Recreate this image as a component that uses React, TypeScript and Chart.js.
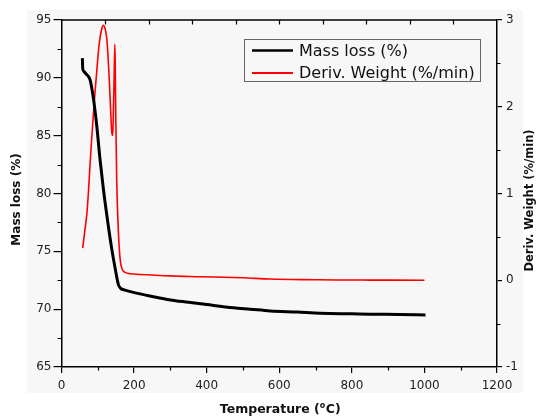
import React, { useEffect, useRef } from 'react';
import { Chart, registerables } from 'chart.js';

Chart.register(...registerables);

// Mass loss curve (left axis)
const massTemp = [57.5, 58.5, 62, 66, 72, 79, 88, 97, 106, 115, 125, 138, 148, 154, 157, 163, 175, 198, 250, 300, 350, 400, 474, 520, 575, 650, 713, 800, 851, 930, 1003];
const massLoss = [91.7, 90.8, 90.55, 90.4, 90.2, 89.8, 88.2, 85.9, 83.0, 80.5, 78.1, 75.3, 73.5, 72.5, 72.1, 71.8, 71.65, 71.45, 71.1, 70.8, 70.6, 70.4, 70.12, 70.0, 69.85, 69.75, 69.65, 69.6, 69.57, 69.54, 69.5];

// Derivative weight curve (right axis)
const derivTemp = [58.5, 60.4, 64, 69.5, 74, 78.6, 83, 87.7, 92, 97, 102, 106, 111, 115.3, 120, 124.7, 128, 131.9, 135, 138.5, 141.2, 143, 144.8, 147, 148, 149.5, 152.2, 156.8, 161.4, 166, 175, 190, 198, 250, 300, 382, 500, 575, 700, 759, 850, 1000];
const derivWeight = [0.37, 0.44, 0.56, 0.75, 1.0, 1.33, 1.62, 1.9, 2.15, 2.4, 2.65, 2.79, 2.9, 2.94, 2.9, 2.79, 2.6, 2.29, 2.0, 1.71, 1.67, 1.95, 2.29, 2.72, 2.5, 1.9, 1.14, 0.56, 0.25, 0.14, 0.09, 0.075, 0.072, 0.06, 0.05, 0.041, 0.028, 0.014, 0.006, 0.003, 0.002, 0.0];

const seriesNames = ['Mass loss (%)', 'Deriv. Weight (%/min)'];
const seriesColors = ['#000000', '#ff0000'];
const xTitleParts = ['Temperature (', 'o', 'C)'];
const yTitle = 'Mass loss (%)';
const y1Title = 'Deriv. Weight (%/min)';

const xMinorTicks = [100, 300, 500, 700, 900, 1100];
const xTopTicks = [120, 240, 360, 480, 600, 720, 840, 960, 1080];
const yMinorTicks = [67.5, 72.5, 77.5, 82.5, 87.5, 92.5];
const y1MinorTicks = [-0.5, 0.5, 1.5, 2.5];

const TICK_FONT = { family: "'DejaVu Sans', sans-serif", size: 12 };
const plainLabel = (v: any) => String(v);

export default function App() {
  const ref = useRef<HTMLCanvasElement>(null);

  useEffect(() => {
    const canvas = ref.current;
    if (!canvas) return;

    const framePlugin = {
      id: 'frame',
      beforeDraw(chart: any) {
        const c = chart.ctx;
        c.save();
        c.fillStyle = '#ffffff';
        c.fillRect(0, 0, chart.width, chart.height);
        c.fillStyle = '#f7f7f7';
        c.fillRect(27, 10, 496, 383);
        c.restore();
      },
      afterDraw(chart: any) {
        const c = chart.ctx;
        const { left, right, top, bottom } = chart.chartArea;
        const xs = chart.scales.x;
        const ys = chart.scales.y;
        const y1s = chart.scales.y1;
        c.save();
        c.strokeStyle = '#000';
        c.lineWidth = 1.5;
        // top border
        c.beginPath();
        c.moveTo(left, top);
        c.lineTo(right, top);
        c.stroke();
        c.lineWidth = 1.2;
        c.beginPath();
        xMinorTicks.forEach((v) => {
          const px = Math.round(xs.getPixelForValue(v)) + 0.5;
          c.moveTo(px, bottom);
          c.lineTo(px, bottom + 3.5);
        });
        xTopTicks.forEach((v) => {
          const px = Math.round(xs.getPixelForValue(v)) + 0.5;
          c.moveTo(px, top);
          c.lineTo(px, top + 4.5);
        });
        yMinorTicks.forEach((v) => {
          const py = Math.round(ys.getPixelForValue(v)) + 0.5;
          c.moveTo(left - 4, py);
          c.lineTo(left, py);
        });
        y1MinorTicks.forEach((v) => {
          const py = Math.round(y1s.getPixelForValue(v)) + 0.5;
          c.moveTo(right, py);
          c.lineTo(right + 3.5, py);
        });
        c.stroke();

        // axis titles
        c.fillStyle = '#111';
        c.textAlign = 'center';
        c.textBaseline = 'middle';
        c.font = "bold 12px 'DejaVu Sans', sans-serif";
        c.save();
        c.translate(17, (top + bottom) / 2 + 6);
        c.rotate(-Math.PI / 2);
        c.fillText(yTitle, 0, 0);
        c.restore();

        c.font = "bold 11.5px 'DejaVu Sans', sans-serif";
        c.save();
        c.translate(530, (top + bottom) / 2 + 7);
        c.rotate(-Math.PI / 2);
        c.fillText(y1Title, 0, 0);
        c.restore();

        // x title with superscript
        c.textAlign = 'left';
        c.textBaseline = 'alphabetic';
        const big = "bold 12.5px 'DejaVu Sans', sans-serif";
        const small = "bold 8px 'DejaVu Sans', sans-serif";
        c.font = big;
        const w1 = c.measureText(xTitleParts[0]).width;
        const w3 = c.measureText(xTitleParts[2]).width;
        c.font = small;
        const w2 = c.measureText(xTitleParts[1]).width + 0.5;
        const total = w1 + w2 + w3;
        let tx = (left + right) / 2 - total / 2 + 1;
        const baseY = 412.5;
        c.font = big;
        c.fillText(xTitleParts[0], tx, baseY);
        tx += w1;
        c.font = small;
        c.fillText(xTitleParts[1], tx, baseY - 4.5);
        tx += w2;
        c.font = big;
        c.fillText(xTitleParts[2], tx, baseY);

        // legend
        c.strokeStyle = '#666';
        c.lineWidth = 1;
        c.strokeRect(244.5, 39.5, 236, 42);
        const rows = [50.5, 73];
        seriesNames.forEach((name, i) => {
          c.strokeStyle = seriesColors[i];
          c.lineWidth = i === 0 ? 2.5 : 2;
          c.beginPath();
          c.moveTo(252, rows[i]);
          c.lineTo(293, rows[i]);
          c.stroke();
          c.fillStyle = '#111';
          c.font = "16px 'DejaVu Sans', sans-serif";
          c.textBaseline = 'middle';
          c.textAlign = 'left';
          c.fillText(name, 299, rows[i] + 1);
        });
        c.restore();
      },
    };

    const chart = new Chart(canvas, {
      type: 'line',
      data: {
        datasets: [
          {
            label: seriesNames[0],
            data: massTemp.map((t, i) => ({ x: t, y: massLoss[i] })),
            borderColor: seriesColors[0],
            borderWidth: 3,
            pointRadius: 0,
            cubicInterpolationMode: 'monotone',
            yAxisID: 'y',
          },
          {
            label: seriesNames[1],
            data: derivTemp.map((t, i) => ({ x: t, y: derivWeight[i] })),
            borderColor: seriesColors[1],
            borderWidth: 1.6,
            pointRadius: 0,
            cubicInterpolationMode: 'monotone',
            yAxisID: 'y1',
          },
        ],
      },
      options: {
        animation: false,
        responsive: false,
        maintainAspectRatio: false,
        layout: { padding: { top: 20, left: 0, right: 0, bottom: 0 } },
        plugins: { legend: { display: false }, tooltip: { enabled: false } },
        scales: {
          x: {
            type: 'linear',
            min: 0,
            max: 1200,
            afterFit: (s: any) => { s.height = 50; },
            ticks: { stepSize: 200, font: TICK_FONT, color: '#222', padding: 6, maxRotation: 0, callback: plainLabel },
            grid: { drawOnChartArea: false, drawTicks: true, tickLength: 6, color: '#000', lineWidth: 1.2 },
            border: { display: true, color: '#000', width: 1.5 },
          },
          y: {
            type: 'linear',
            position: 'left',
            min: 65,
            max: 95,
            afterFit: (s: any) => { s.width = 61.5; },
            ticks: { stepSize: 5, font: TICK_FONT, color: '#222', padding: 2, callback: plainLabel },
            grid: { drawOnChartArea: false, drawTicks: true, tickLength: 8, color: '#000', lineWidth: 1.2 },
            border: { display: true, color: '#000', width: 1.5 },
          },
          y1: {
            type: 'linear',
            position: 'right',
            min: -1,
            max: 3,
            afterFit: (s: any) => { s.width = 40; },
            ticks: { stepSize: 1, font: TICK_FONT, color: '#222', padding: 4, callback: plainLabel },
            grid: { drawOnChartArea: false, drawTicks: true, tickLength: 5, color: '#000', lineWidth: 1.2 },
            border: { display: true, color: '#000', width: 1.5 },
          },
        },
      },
      plugins: [framePlugin],
    } as any);

    return () => chart.destroy();
  }, []);

  return (
    <div style={{ position: 'fixed', left: 0, top: 0, width: 537, height: 417 }}>
      <canvas ref={ref} width={537} height={417} style={{ width: 537, height: 417, display: 'block' }} />
    </div>
  );
}
